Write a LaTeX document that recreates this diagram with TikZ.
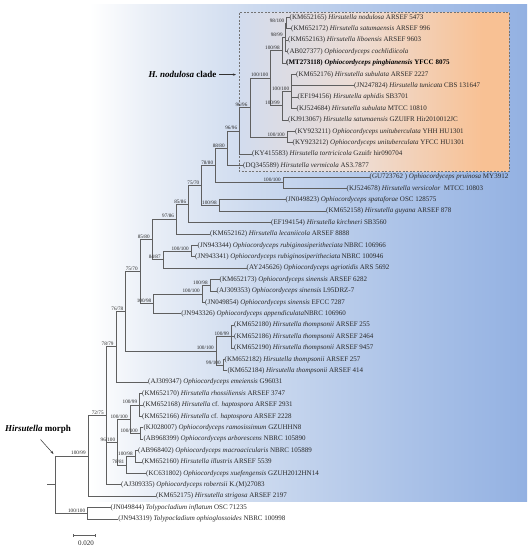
\documentclass[tikz,border=0pt]{standalone}
\usepackage{fontspec}
\setmainfont{Liberation Serif}
\usetikzlibrary{arrows.meta}
\definecolor{treeline}{RGB}{95,95,95}
\definecolor{txt}{RGB}{40,40,40}
\definecolor{bgA}{RGB}{234,239,247}
\definecolor{bgB}{RGB}{206,219,239}
\definecolor{bgC}{RGB}{172,195,232}
\definecolor{bgR}{RGB}{147,177,226}
\definecolor{boxL}{RGB}{210,220,238}
\definecolor{boxM}{RGB}{238,220,210}
\definecolor{boxR}{RGB}{248,193,148}
\pgfdeclarehorizontalshading{bgshade}{100bp}{color(0bp)=(white); color(33.5bp)=(white); color(39bp)=(bgA); color(48.7bp)=(bgB); color(63bp)=(bgC); color(75bp)=(bgR); color(100bp)=(bgR)}
\pgfdeclarehorizontalshading{boxshade}{100bp}{color(0bp)=(boxL); color(25bp)=(boxL); color(48bp)=(boxM); color(70bp)=(boxR); color(75bp)=(boxR); color(100bp)=(boxR)}
\tikzset{
  branch/.style={draw=treeline, line width=0.5pt},
  leaf/.style={anchor=west, inner sep=0pt, text=txt, font=\fontsize{7}{8}\selectfont, text height=4.9pt, text depth=1.4pt},
  sup/.style={anchor=south east, inner sep=0.2pt, text=txt, font=\fontsize{5.2}{6}\selectfont},
  clade/.style={font=\fontsize{9}{10}\selectfont\bfseries, text=black, inner sep=0pt},
  scalelab/.style={font=\fontsize{7}{8}\selectfont, text=txt, inner sep=0pt},
  arr/.style={-{Stealth[length=3.2pt,width=2.4pt]}, draw=black!80, line width=0.5pt},
  cladebox/.style={draw=black!55, line width=0.6pt, dash pattern=on 2pt off 1.5pt}
}
\newcommand\bsup[3]{\node[sup] (s#1) at ([xshift=-2pt,yshift=0.5pt]#1) {#2/#3};}
\begin{document}
\begin{tikzpicture}[x=1pt,y=-1pt]
\useasboundingbox (0,0) rectangle (531,550);
\path[shading=bgshade] (0,4) rectangle (527,501);
\path[shading=boxshade] (239,12.5) rectangle (509,171);
\draw[cladebox] (239,12.5) rectangle (509,171);

% leaves
\node[leaf] (l1) at (289.5,17.3) {(KM652165) \textit{Hirsutella nodulosa} ARSEF 5473};
\node[leaf] (l2) at (291,28.7) {(KM652172) \textit{Hirsutella satumaensis} ARSEF 996};
\node[leaf] (l3) at (288,40.1) {(KM652163) \textit{Hirsutella liboensis} ARSEF 9603};
\node[leaf] (l4) at (287,51.5) {(AB027377) \textit{Ophiocordyceps cochlidiicola}};
\node[leaf,text=black] (l5) at (286,62.9) {\bfseries (MT273118) \textit{Ophiocordyceps pingbianensis} YFCC 8075};
\node[leaf] (l6) at (296,74.3) {(KM652176) \textit{Hirsutella subulata} ARSEF 2227};
\node[leaf] (l7) at (354,85.7) {(JN247824) \textit{Hirsutella tunicata} CBS 131647};
\node[leaf] (l8) at (297.5,97.1) {(EF194156) \textit{Hirsutella aphidis} SB3701};
\node[leaf] (l9) at (296.5,108.5) {(KJ524684) \textit{Hirsutella subulata} MTCC 10810};
\node[leaf] (l10) at (288,119.9) {(KJ913067) \textit{Hirsutella satumaensis} GZUIFR Hir2010012JC};
\node[leaf] (l11) at (295,131.3) {(KY923211) \textit{Ophiocordyceps unituberculata} YHH HU1301};
\node[leaf] (l12) at (292.5,142.7) {(KY923212) \textit{Ophiocordyceps unituberculata} YFCC HU1301};
\node[leaf] (l13) at (252,154.1) {(KY415583) \textit{Hirsutella tortricicola} Gzuifr hir090704};
\node[leaf] (l14) at (243,165.5) {(DQ345589) \textit{Hirsutella vermicola} AS3.7877};
\node[leaf] (l15) at (369.5,176.9) {(GU723762 ) \textit{Ophiocordyceps pruinosa} MY3912};
\node[leaf] (l16) at (346.5,188.3) {(KJ524678) \textit{Hirsutella versicolor}\ \ MTCC 10803};
\node[leaf] (l17) at (285.5,199.7) {(JN049823) \textit{Ophiocordyceps spataforae} OSC 128575};
\node[leaf] (l18) at (326,211.1) {(KM652158) \textit{Hirsutella guyana} ARSEF 878};
\node[leaf] (l19) at (271,222.5) {(EF194154) \textit{Hirsutella kirchneri} SB3560};
\node[leaf] (l20) at (210,233.9) {(KM652162) \textit{Hirsutella lecaniicola} ARSEF 8888};
\node[leaf] (l21) at (197.5,245.3) {(JN943344) \textit{Ophiocordyceps rubiginosiperitheciata}\,NBRC 106966};
\node[leaf] (l22) at (195,256.7) {(JN943341) \textit{Ophiocordyceps rubiginosiperitheciata}\,NBRC 100946};
\node[leaf] (l23) at (246.5,268.1) {(AY245626) \textit{Ophiocordyceps agriotidis} ARS 5692};
\node[leaf] (l24) at (219.5,279.5) {(KM652173) \textit{Ophiocordyceps sinensis} ARSEF 6282};
\node[leaf] (l25) at (216.5,290.9) {(AJ309353) \textit{Ophiocordyceps sinensis} L95DRZ-7};
\node[leaf] (l26) at (205,302.3) {(JN049854) \textit{Ophiocordyceps sinensis} EFCC 7287};
\node[leaf] (l27) at (181.2,313.7) {(JN943326) \textit{Ophiocordyceps appendiculata}NBRC 106960};
\node[leaf] (l28) at (234,325.1) {(KM652180) \textit{Hirsutella thompsonii} ARSEF 255};
\node[leaf] (l29) at (234,336.5) {(KM652186) \textit{Hirsutella thompsonii} ARSEF 2464};
\node[leaf] (l30) at (234,347.9) {(KM652190) \textit{Hirsutella thompsonii} ARSEF 9457};
\node[leaf] (l31) at (224.5,359.3) {(KM652182) \textit{Hirsutella thompsonii} ARSEF 257};
\node[leaf] (l32) at (227.3,370.7) {(KM652184) \textit{Hirsutella thompsonii} ARSEF 414};
\node[leaf] (l33) at (148,382.1) {(AJ309347) \textit{Ophiocordyceps emeiensis} G96031};
\node[leaf] (l34) at (142,393.5) {(KM652170) \textit{Hirsutella rhossiliensis} ARSEF 3747};
\node[leaf] (l35) at (143,404.9) {(KM652168) \textit{Hirsutella} cf. \textit{haptospora} ARSEF 2931};
\node[leaf] (l36) at (142,416.3) {(KM652166) \textit{Hirsutella} cf. \textit{haptospora} ARSEF 2228};
\node[leaf] (l37) at (143.3,427.7) {(KJ028007) \textit{Ophiocordyceps ramosissimum} GZUHHN8};
\node[leaf] (l38) at (143.3,439.1) {(AB968399) \textit{Ophiocordyceps arborescens} NBRC 105890};
\node[leaf] (l39) at (138,450.5) {(AB968402) \textit{Ophiocordyceps macroacicularis} NBRC 105889};
\node[leaf] (l40) at (141.8,461.9) {(KM652160) \textit{Hirsutella illustris} ARSEF 5539};
\node[leaf] (l41) at (146,473.3) {(KC631802) \textit{Ophiocordyceps xuefengensis} GZUH2012HN14};
\node[leaf] (l42) at (121,484.7) {(AJ309335) \textit{Ophiocordyceps robertsii} K.(M)27083};
\node[leaf] (l43) at (156,496.1) {(KM652175) \textit{Hirsutella strigosa} ARSEF 2197};
\node[leaf] (l44) at (110.5,507.5) {(JN049844) \textit{Tolypocladium inflatum} OSC 71235};
\node[leaf] (l45) at (118.2,518.9) {(JN943319) \textit{Tolypocladium ophioglossoides} NBRC 100998};

% internal nodes
\coordinate (a1) at (286.7,23.0);
\coordinate (a2) at (285,37.25);
\coordinate (a3) at (282,50.1);
\coordinate (a6) at (291.5,91.4);
\coordinate (a5) at (282,105.65);
\coordinate (a4) at (270.5,77.9);
\coordinate (a7) at (287,137.0);
\coordinate (a8) at (249.8,107.45);
\coordinate (a9) at (239.5,130.8);
\coordinate (a10) at (227,148.15);
\coordinate (a12) at (283,182.6);
\coordinate (a11) at (215.5,165.4);
\coordinate (a14) at (219,205.4);
\coordinate (a13) at (201.7,185.4);
\coordinate (a15) at (188.5,203.95);
\coordinate (a16) at (176.4,218.9);
\coordinate (a19) at (191,251.0);
\coordinate (a18) at (163,259.55);
\coordinate (a17) at (152,239.2);
\coordinate (a23) at (210,285.2);
\coordinate (a22) at (202,293.75);
\coordinate (a21) at (153.7,303.7);
\coordinate (a20) at (140,271.45);
\coordinate (a26) at (231.4,336.5);
\coordinate (a27) at (223,365.0);
\coordinate (a25) at (216.2,350.75);
\coordinate (a24) at (125.7,311.1);
\coordinate (a28) at (115.9,346.6);
\coordinate (a32) at (139.5,404.9);
\coordinate (a33) at (140,433.4);
\coordinate (a31) at (130,419.15);
\coordinate (a35) at (135,456.2);
\coordinate (a34) at (126.7,464.75);
\coordinate (a30) at (117.5,441.95);
\coordinate (a29) at (106,415.65);
\coordinate (nb) at (88,455.9);
\coordinate (nc) at (87.5,513.2);
\coordinate (root) at (55,484.55);
\coordinate (rootstub) at (47,484.55);

% branches
\foreach \p/\c in {a1/l1.west,a1/l2.west,a2/a1,a2/l3.west,a2/l4.west,a3/a2,a3/l5.west,
  a6/l6.west,a6/l7.west,a6/l8.west,a6/l9.west,a5/a6,a5/l10.west,a4/a3,a4/a5,
  a7/l11.west,a7/l12.west,a8/a4,a8/a7,a9/a8,a9/l13.west,a10/a9,a10/l14.west,
  a12/l15.west,a12/l16.west,a11/a10,a11/a12,a14/l17.west,a14/l18.west,a13/a11,a13/a14,
  a15/a13,a15/l19.west,a16/a15,a16/l20.west,a19/l21.west,a19/l22.west,a18/a19,a18/l23.west,
  a17/a16,a17/a18,a23/l24.west,a23/l25.west,a22/a23,a22/l26.west,a21/a22,a21/l27.west,
  a20/a17,a20/a21,a26/l28.west,a26/l29.west,a26/l30.west,a27/l31.west,a27/l32.west,
  a25/a26,a25/a27,a24/a20,a24/a25,a28/a24,a28/l33.west,
  a32/l34.west,a32/l35.west,a32/l36.west,a33/l37.west,a33/l38.west,a31/a32,a31/a33,
  a35/l39.west,a35/l40.west,a34/a35,a34/l41.west,a30/a31,a30/a34,
  a29/a28,a29/a30,a29/l42.west,nb/a29,nb/l43.west,nc/l44.west,nc/l45.west,root/nb,root/nc}
  {\draw[branch] (\p) |- (\c);}
\draw[branch] (rootstub) -- (root);

% support values
\bsup{a1}{98}{100}
\bsup{a2}{98}{99}
\bsup{a3}{100}{98}
\bsup{a4}{100}{100}
\bsup{a5}{100}{99}
\bsup{a6}{100}{100}
\bsup{a7}{100}{100}
\bsup{a8}{96}{96}
\bsup{a9}{96}{96}
\bsup{a10}{88}{80}
\bsup{a11}{78}{80}
\bsup{a12}{100}{100}
\bsup{a13}{75}{70}
\bsup{a14}{100}{98}
\bsup{a15}{85}{86}
\bsup{a16}{97}{86}
\bsup{a17}{85}{80}
\bsup{a18}{84}{87}
\bsup{a19}{100}{100}
\bsup{a20}{75}{70}
\bsup{a21}{100}{98}
\bsup{a22}{100}{100}
\bsup{a23}{100}{98}
\bsup{a24}{76}{78}
\bsup{a25}{100}{100}
\bsup{a26}{100}{99}
\bsup{a27}{99}{100}
\bsup{a28}{78}{79}
\bsup{a29}{72}{75}
\bsup{a30}{96}{100}
\bsup{a31}{100}{100}
\bsup{a32}{100}{99}
\bsup{a33}{100}{100}
\bsup{a34}{78}{81}
\bsup{a35}{100}{98}
\bsup{nb}{100}{99}
\bsup{nc}{100}{100}

% clade labels
\node[clade,anchor=east] (hnod) at (216.5,74.6) {\textit{H. nodulosa} clade};
\coordinate (hnodtip) at (236,74.6);
\draw[arr] ([xshift=2.5pt]hnod.east) -- (hnodtip);
\node[clade] (hmorph) at (38,429) {\textit{Hirsutella} morph};
\coordinate (hm1) at (40.5,439.5);
\coordinate (hm2) at (53.5,454);
\draw[arr] (hm1) -- (hm2);

% scale bar
\coordinate (sbL) at (73.5,535.5);
\coordinate (sbR) at (95.5,535.5);
\draw[branch] (sbL) -- (sbR);
\draw[branch] ([yshift=1.5pt]sbL) -- ([yshift=-1.5pt]sbL);
\draw[branch] ([yshift=1.5pt]sbR) -- ([yshift=-1.5pt]sbR);
\node[scalelab] (sbT) at (86,543.5) {0.020};
\end{tikzpicture}
\end{document}
